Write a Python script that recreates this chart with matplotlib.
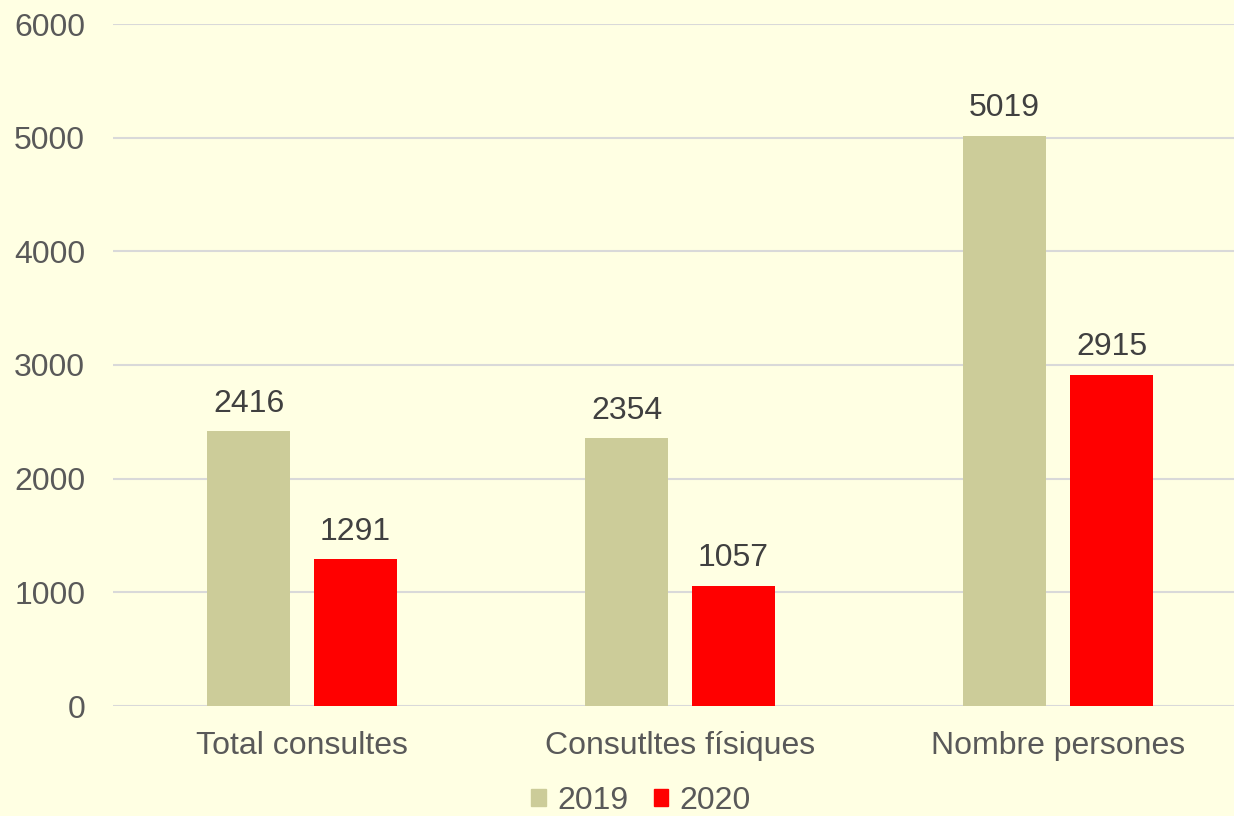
import numpy as np
import matplotlib
matplotlib.use('Agg')
import matplotlib.pyplot as plt
from matplotlib.patches import Patch

# data
categories = ['Total consultes', 'Consutltes físiques', 'Nombre persones']
years = ['2019', '2020']
values_2019 = [2416, 2354, 5019]
values_2020 = [1291, 1057, 2915]
y_ticks = [0, 1000, 2000, 3000, 4000, 5000, 6000]

plt.rcParams['font.family'] = ['Liberation Sans', 'DejaVu Sans']

bg = '#FFFFE3'
col_2019 = '#CCCC99'
col_2020 = '#FF0000'
tick_col = '#595959'
label_col = '#404040'

fig = plt.figure(figsize=(12.34, 8.16), dpi=100, facecolor=bg)
ax = fig.add_axes([113 / 1234, 1 - 706 / 816, 1 - 113 / 1234, (706 - 24) / 816])
ax.set_facecolor(bg)

x = np.arange(len(categories))
width = 0.222
off = 0.1415
bars1 = ax.bar(x - off, values_2019, width, color=col_2019, zorder=3)
bars2 = ax.bar(x + off, values_2020, width, color=col_2020, zorder=3)

# data labels above each bar
for bars in (bars1, bars2):
    for b in bars:
        ax.annotate(f'{int(b.get_height())}', (b.get_x() + b.get_width() / 2, b.get_height()),
                    xytext=(0, 14), textcoords='offset points', ha='center', va='baseline',
                    fontsize=23, color=label_col)

ax.set_xlim(-0.5, 2.5 - 13 / 378)
ax.set_ylim(0, 6000)
ax.set_yticks(y_ticks)
ax.set_xticks(x)
ax.set_xticklabels(categories)
ax.tick_params(axis='both', length=0, labelsize=23, labelcolor=tick_col)
ax.tick_params(axis='y', pad=20)
ax.tick_params(axis='x', pad=18)
ax.grid(axis='y', color='#D9D9D9', linewidth=1.5, zorder=0)
for s in ax.spines.values():
    s.set_visible(False)

handles = [Patch(color=col_2019, label=years[0]), Patch(color=col_2020, label=years[1])]
fig.legend(handles=handles, loc='center', bbox_to_anchor=(641 / 1234, 1 - 801 / 816), ncol=2,
           frameon=False, fontsize=23, labelcolor=tick_col, handlelength=0.45, handleheight=0.45,
           handletextpad=0.35, columnspacing=0.8)

fig.savefig('out.png', dpi=100, facecolor=bg)
